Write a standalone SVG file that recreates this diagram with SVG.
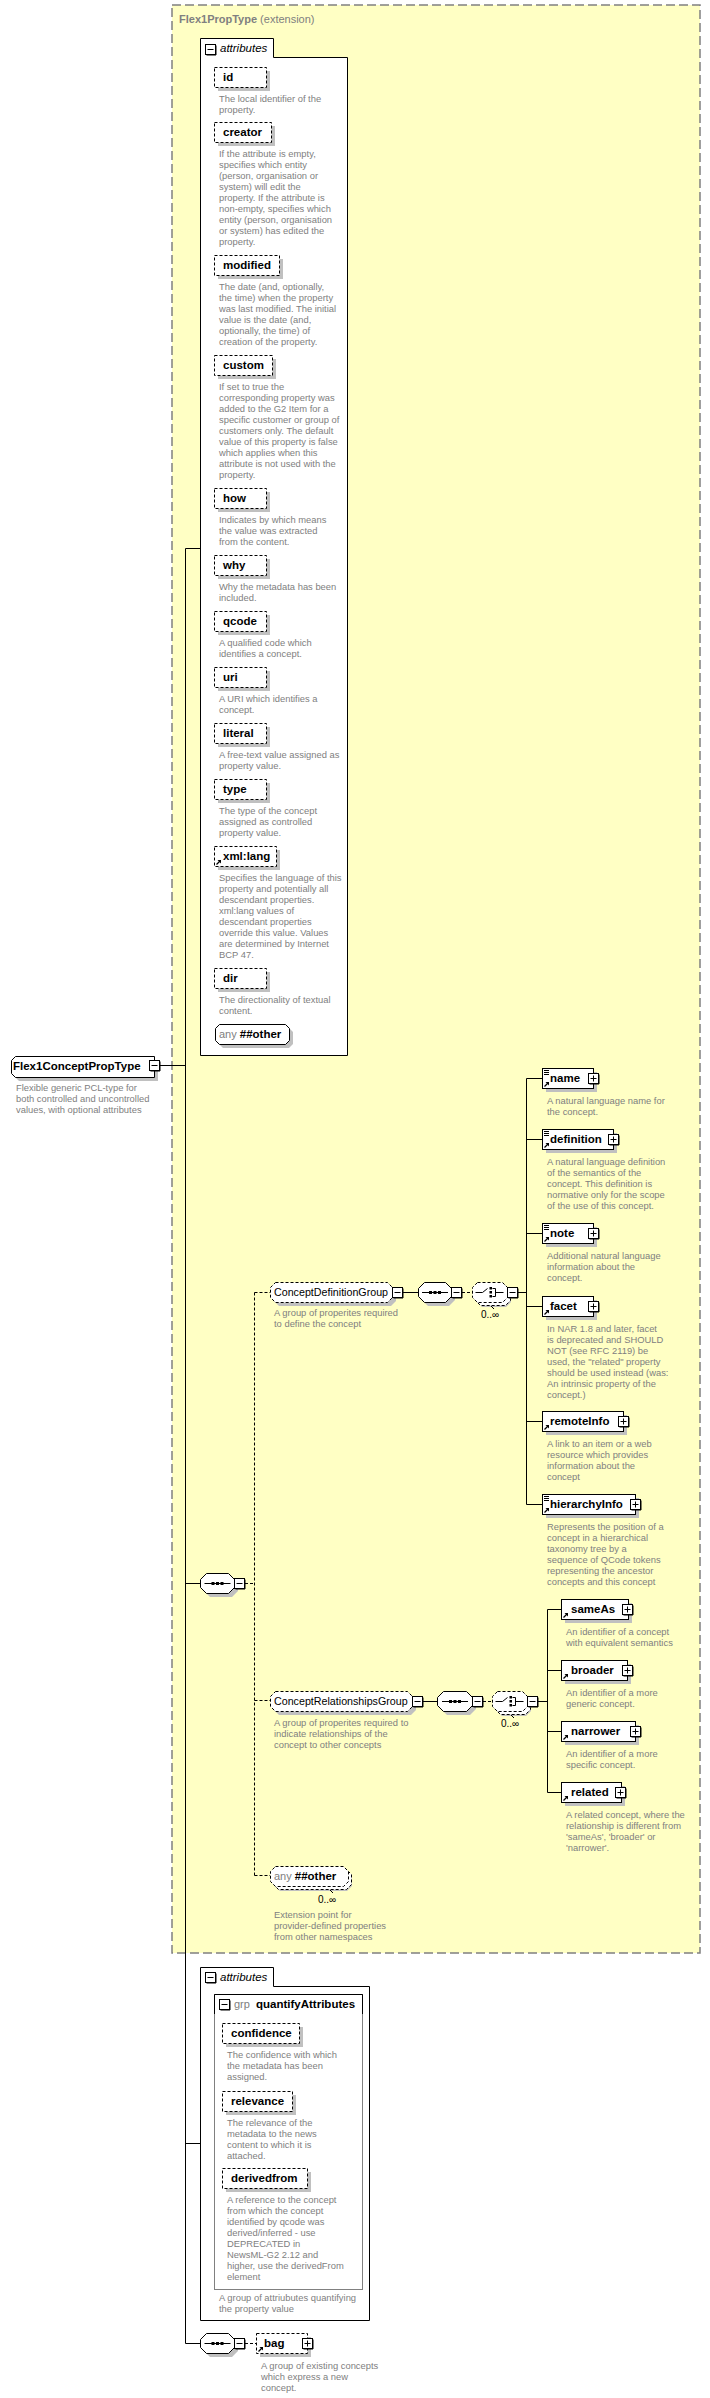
<svg xmlns="http://www.w3.org/2000/svg" xmlns:xlink="http://www.w3.org/1999/xlink" width="710" height="2398" viewBox="0 0 710 2398">
<style>
text{font-family:"Liberation Sans",Arial,sans-serif}
.yb{fill:#FFFFC4;stroke:#808080;stroke-width:1.5;stroke-dasharray:9 4}
.ln{stroke:#000;stroke-width:1;fill:none}
.dl{stroke:#000;stroke-width:1;fill:none;stroke-dasharray:3 2}
.box{fill:#fff;stroke:#000;stroke-width:1}
.dbox{fill:#fff;stroke:#000;stroke-width:1;stroke-dasharray:3 2}
.sh{fill:#c0c0c0}
.nm{font-size:11.5px;font-weight:bold;fill:#000}
.gn{font-size:10.7px;fill:#000}
.ds{font-size:9.4px;fill:#808080}
.gr{font-size:11px;fill:#808080}
.occ{font-size:10px;fill:#000}
.it{font-size:11.5px;font-style:italic;fill:#000}
.ic{fill:#000}
</style>
<defs>
<g id="minus"><rect x="0.5" y="0.5" width="10" height="10" fill="#fff" stroke="#000"/><path d="M11,1.5V11H1.5" stroke="#000" fill="none"/><path d="M2.5,5.5H8.5" stroke="#000"/></g>
<g id="plus"><rect x="0.5" y="0.5" width="10" height="10" fill="#fff" stroke="#000"/><path d="M11,1.5V11H1.5" stroke="#000" fill="none"/><path d="M2.5,5.5H8.5M5.5,2.5V8.5" stroke="#000"/></g>
<g id="sqI"><path d="M-13,0.5H13" stroke="#000"/><rect x="-6" y="-1" width="3" height="3"/><rect x="-1.5" y="-1" width="3" height="3"/><rect x="3" y="-1" width="3" height="3"/></g>
<g id="chI"><path d="M-14,0.5H-7L-2,-3.5" stroke="#000" fill="none"/><rect x="0" y="-5" width="2.5" height="2.5"/><rect x="0" y="-1" width="2.5" height="2.5"/><rect x="0" y="3" width="2.5" height="2.5"/><path d="M3,-3.5H6V4.5H3M6,0.5H14" stroke="#000" fill="none"/></g>
<g id="refI"><path d="M1.5,6.5L5,3" stroke="#000" stroke-width="1.2"/><path d="M2.5,2H6V5.5Z" fill="#000"/></g>
<g id="mixI"><path d="M1,1.5H6M1,3.5H6M1,5.5H6" stroke="#000"/></g>
</defs>

<rect class="yb" x="172" y="5" width="528" height="1948"/>
<text x="179" y="23" class="gr"><tspan font-weight="bold">Flex1PropType</tspan> (extension)</text>

<g id="connectors">
<path class="ln" d="M185.5,548.5V2343.5M185.5,548.5H200M160,1065.5H185.5M185.5,1583.5H200M185.5,2143.5H200M185.5,2343.5H200"/>
<path class="dl" d="M245,1583.5H254.5M254.5,1292.5V1875.5M254.5,1292.5H270M254.5,1700.5H270M254.5,1875.5H270"/>
<path class="ln" d="M403,1292.5H418M518,1292.5H526.5M526.5,1078.5V1504.5M526.5,1078.5H542M526.5,1139.5H542M526.5,1233.5H542M526.5,1306.5H542M526.5,1421.5H542M526.5,1504.5H542"/>
<path class="dl" d="M462,1292.5H472"/>
<path class="ln" d="M423,1701.5H437M538,1701.5H547.5M547.5,1609.5V1792.5M547.5,1609.5H561M547.5,1670.5H561M547.5,1731.5H561M547.5,1792.5H561"/>
<path class="dl" d="M483,1701.5H492M245,2343.5H256"/>
</g>

<g id="root">
<path class="sh" d="M19,1060L15,1064V1077L19,1081H158V1060Z"/>
<path class="box" d="M15.5,1056.5L11.5,1060.5V1073.5L15.5,1077.5H154.5V1056.5Z"/>
<text class="nm" x="13" y="1070">Flex1ConceptPropType</text>
<use xlink:href="#minus" x="149" y="1060"/>
<text class="ds"><tspan x="16" y="1091">Flexible generic PCL-type for</tspan><tspan x="16" y="1102">both controlled and uncontrolled</tspan><tspan x="16" y="1113">values, with optional attributes</tspan></text>
</g>

<g id="attributes1">
<path class="box" d="M200.5,38.5H273.5V57.5H347.5V1055.5H200.5Z"/>
<use xlink:href="#minus" x="205" y="44"/>
<text class="it" x="220" y="52">attributes</text>
</g>

<g id="attr-id"><rect class="sh" x="218" y="71" width="52" height="20"/><rect class="dbox" x="214.5" y="67.5" width="52" height="20"/><text class="nm" x="223" y="81">id</text>
<text class="ds"><tspan x="219" y="102">The local identifier of the</tspan><tspan x="219" y="113">property.</tspan></text></g>

<g id="attr-creator"><rect class="sh" x="218" y="126" width="57" height="20"/><rect class="dbox" x="214.5" y="122.5" width="57" height="20"/><text class="nm" x="223" y="136">creator</text>
<text class="ds"><tspan x="219" y="157">If the attribute is empty,</tspan><tspan x="219" y="168">specifies which entity</tspan><tspan x="219" y="179">(person, organisation or</tspan><tspan x="219" y="190">system) will edit the</tspan><tspan x="219" y="201">property. If the attribute is</tspan><tspan x="219" y="212">non-empty, specifies which</tspan><tspan x="219" y="223">entity (person, organisation</tspan><tspan x="219" y="234">or system) has edited the</tspan><tspan x="219" y="245">property.</tspan></text></g>

<g id="attr-modified"><rect class="sh" x="218" y="259" width="65" height="20"/><rect class="dbox" x="214.5" y="255.5" width="65" height="20"/><text class="nm" x="223" y="269">modified</text>
<text class="ds"><tspan x="219" y="290">The date (and, optionally,</tspan><tspan x="219" y="301">the time) when the property</tspan><tspan x="219" y="312">was last modified. The initial</tspan><tspan x="219" y="323">value is the date (and,</tspan><tspan x="219" y="334">optionally, the time) of</tspan><tspan x="219" y="345">creation of the property.</tspan></text></g>

<g id="attr-custom"><rect class="sh" x="218" y="359" width="58" height="20"/><rect class="dbox" x="214.5" y="355.5" width="58" height="20"/><text class="nm" x="223" y="369">custom</text>
<text class="ds"><tspan x="219" y="390">If set to true the</tspan><tspan x="219" y="401">corresponding property was</tspan><tspan x="219" y="412">added to the G2 Item for a</tspan><tspan x="219" y="423">specific customer or group of</tspan><tspan x="219" y="434">customers only. The default</tspan><tspan x="219" y="445">value of this property is false</tspan><tspan x="219" y="456">which applies when this</tspan><tspan x="219" y="467">attribute is not used with the</tspan><tspan x="219" y="478">property.</tspan></text></g>

<g id="attr-how"><rect class="sh" x="218" y="492" width="52" height="20"/><rect class="dbox" x="214.5" y="488.5" width="52" height="20"/><text class="nm" x="223" y="502">how</text>
<text class="ds"><tspan x="219" y="523">Indicates by which means</tspan><tspan x="219" y="534">the value was extracted</tspan><tspan x="219" y="545">from the content.</tspan></text></g>

<g id="attr-why"><rect class="sh" x="218" y="559" width="52" height="20"/><rect class="dbox" x="214.5" y="555.5" width="52" height="20"/><text class="nm" x="223" y="569">why</text>
<text class="ds"><tspan x="219" y="590">Why the metadata has been</tspan><tspan x="219" y="601">included.</tspan></text></g>

<g id="attr-qcode"><rect class="sh" x="218" y="615" width="52" height="20"/><rect class="dbox" x="214.5" y="611.5" width="52" height="20"/><text class="nm" x="223" y="625">qcode</text>
<text class="ds"><tspan x="219" y="646">A qualified code which</tspan><tspan x="219" y="657">identifies a concept.</tspan></text></g>

<g id="attr-uri"><rect class="sh" x="218" y="671" width="52" height="20"/><rect class="dbox" x="214.5" y="667.5" width="52" height="20"/><text class="nm" x="223" y="681">uri</text>
<text class="ds"><tspan x="219" y="702">A URI which identifies a</tspan><tspan x="219" y="713">concept.</tspan></text></g>

<g id="attr-literal"><rect class="sh" x="218" y="727" width="52" height="20"/><rect class="dbox" x="214.5" y="723.5" width="52" height="20"/><text class="nm" x="223" y="737">literal</text>
<text class="ds"><tspan x="219" y="758">A free-text value assigned as</tspan><tspan x="219" y="769">property value.</tspan></text></g>

<g id="attr-type"><rect class="sh" x="218" y="783" width="52" height="20"/><rect class="dbox" x="214.5" y="779.5" width="52" height="20"/><text class="nm" x="223" y="793">type</text>
<text class="ds"><tspan x="219" y="814">The type of the concept</tspan><tspan x="219" y="825">assigned as controlled</tspan><tspan x="219" y="836">property value.</tspan></text></g>

<g id="attr-xmllang"><rect class="sh" x="218" y="850" width="62" height="20"/><rect class="dbox" x="214.5" y="846.5" width="62" height="20"/><use xlink:href="#refI" x="215" y="858"/><text class="nm" x="223" y="860">xml:lang</text>
<text class="ds"><tspan x="219" y="881">Specifies the language of this</tspan><tspan x="219" y="892">property and potentially all</tspan><tspan x="219" y="903">descendant properties.</tspan><tspan x="219" y="914">xml:lang values of</tspan><tspan x="219" y="925">descendant properties</tspan><tspan x="219" y="936">override this value. Values</tspan><tspan x="219" y="947">are determined by Internet</tspan><tspan x="219" y="958">BCP 47.</tspan></text></g>

<g id="attr-dir"><rect class="sh" x="218" y="972" width="52" height="20"/><rect class="dbox" x="214.5" y="968.5" width="52" height="20"/><text class="nm" x="223" y="982">dir</text>
<text class="ds"><tspan x="219" y="1003">The directionality of textual</tspan><tspan x="219" y="1014">content.</tspan></text></g>

<g id="attr-any"><path class="sh" d="M223,1028H289L293,1032V1044L289,1048H223L219,1044V1032Z"/><path class="box" d="M219.5,1024.5H285.5L289.5,1028.5V1040.5L285.5,1044.5H219.5L215.5,1040.5V1028.5Z"/><text x="219" y="1038" class="gr">any <tspan class="nm">##other</tspan></text></g>

<g id="seq-main">
<path class="sh" d="M210,1577H232L238,1583V1591L232,1597H210L204,1591V1583Z"/>
<path class="box" d="M206.5,1573.5H228.5L234.5,1579.5V1587.5L228.5,1593.5H206.5L200.5,1587.5V1579.5Z"/>
<use xlink:href="#sqI" x="217.5" y="1583"/>
<use xlink:href="#minus" x="234" y="1578"/>
</g>

<g id="ConceptDefinitionGroup">
<path class="sh" d="M279,1286H391L396,1291V1301L391,1306H279L274,1301V1291Z"/>
<path class="dbox" d="M275.5,1282.5H387.5L392.5,1287.5V1297.5L387.5,1302.5H275.5L270.5,1297.5V1287.5Z"/>
<text class="gn" x="274" y="1296">ConceptDefinitionGroup</text>
<use xlink:href="#minus" x="392" y="1287"/>
<text class="ds"><tspan x="274" y="1316">A group of properites required</tspan><tspan x="274" y="1327">to define the concept</tspan></text>
</g>

<g id="seq-cdg">
<path class="sh" d="M428,1286H449L455,1292V1300L449,1306H428L422,1300V1292Z"/>
<path class="box" d="M424.5,1282.5H445.5L451.5,1288.5V1296.5L445.5,1302.5H424.5L418.5,1296.5V1288.5Z"/>
<use xlink:href="#sqI" x="435" y="1292"/>
<use xlink:href="#minus" x="451" y="1287"/>
</g>

<g id="choice-cdg">
<path class="sh" d="M482,1287H506L511,1292V1302L506,1307H482L477,1302V1292Z"/>
<path class="dbox" d="M480.5,1285.5H505.5L510.5,1290.5V1300.5L505.5,1305.5H480.5L475.5,1300.5V1290.5Z"/>
<path class="dbox" d="M477.5,1282.5H502.5L507.5,1287.5V1297.5L502.5,1302.5H477.5L472.5,1297.5V1287.5Z"/>
<use xlink:href="#chI" x="489.5" y="1292"/>
<use xlink:href="#minus" x="507" y="1287"/>
<path class="ln" d="M494,1309L491,1306"/>
<text class="occ" x="481" y="1318">0..∞</text>
</g>

<g id="el-name"><rect class="sh" x="546" y="1072" width="51" height="20"/><rect class="box" x="542.5" y="1068.5" width="51" height="20"/><use xlink:href="#mixI" x="543" y="1069"/><use xlink:href="#refI" x="543" y="1080"/><text class="nm" x="550" y="1082">name</text><use xlink:href="#plus" x="588" y="1073"/>
<text class="ds"><tspan x="547" y="1104">A natural language name for</tspan><tspan x="547" y="1115">the concept.</tspan></text></g>

<g id="el-definition"><rect class="sh" x="546" y="1133" width="71" height="20"/><rect class="box" x="542.5" y="1129.5" width="71" height="20"/><use xlink:href="#mixI" x="543" y="1130"/><use xlink:href="#refI" x="543" y="1141"/><text class="nm" x="550" y="1143">definition</text><use xlink:href="#plus" x="608" y="1134"/>
<text class="ds"><tspan x="547" y="1165">A natural language definition</tspan><tspan x="547" y="1176">of the semantics of the</tspan><tspan x="547" y="1187">concept. This definition is</tspan><tspan x="547" y="1198">normative only for the scope</tspan><tspan x="547" y="1209">of the use of this concept.</tspan></text></g>

<g id="el-note"><rect class="sh" x="546" y="1227" width="51" height="20"/><rect class="box" x="542.5" y="1223.5" width="51" height="20"/><use xlink:href="#mixI" x="543" y="1224"/><use xlink:href="#refI" x="543" y="1235"/><text class="nm" x="550" y="1237">note</text><use xlink:href="#plus" x="588" y="1228"/>
<text class="ds"><tspan x="547" y="1259">Additional natural language</tspan><tspan x="547" y="1270">information about the</tspan><tspan x="547" y="1281">concept.</tspan></text></g>

<g id="el-facet"><rect class="sh" x="546" y="1300" width="51" height="20"/><rect class="box" x="542.5" y="1296.5" width="51" height="20"/><use xlink:href="#refI" x="543" y="1308"/><text class="nm" x="550" y="1310">facet</text><use xlink:href="#plus" x="588" y="1301"/>
<text class="ds"><tspan x="547" y="1332">In NAR 1.8 and later, facet</tspan><tspan x="547" y="1343">is deprecated and SHOULD</tspan><tspan x="547" y="1354">NOT (see RFC 2119) be</tspan><tspan x="547" y="1365">used, the "related" property</tspan><tspan x="547" y="1376">should be used instead (was:</tspan><tspan x="547" y="1387">An intrinsic property of the</tspan><tspan x="547" y="1398">concept.)</tspan></text></g>

<g id="el-remoteInfo"><rect class="sh" x="546" y="1415" width="81" height="20"/><rect class="box" x="542.5" y="1411.5" width="81" height="20"/><use xlink:href="#refI" x="543" y="1423"/><text class="nm" x="550" y="1425">remoteInfo</text><use xlink:href="#plus" x="618" y="1416"/>
<text class="ds"><tspan x="547" y="1447">A link to an item or a web</tspan><tspan x="547" y="1458">resource which provides</tspan><tspan x="547" y="1469">information about the</tspan><tspan x="547" y="1480">concept</tspan></text></g>

<g id="el-hierarchyInfo"><rect class="sh" x="546" y="1498" width="93" height="20"/><rect class="box" x="542.5" y="1494.5" width="93" height="20"/><use xlink:href="#mixI" x="543" y="1495"/><use xlink:href="#refI" x="543" y="1506"/><text class="nm" x="550" y="1508">hierarchyInfo</text><use xlink:href="#plus" x="630" y="1499"/>
<text class="ds"><tspan x="547" y="1530">Represents the position of a</tspan><tspan x="547" y="1541">concept in a hierarchical</tspan><tspan x="547" y="1552">taxonomy tree by a</tspan><tspan x="547" y="1563">sequence of QCode tokens</tspan><tspan x="547" y="1574">representing the ancestor</tspan><tspan x="547" y="1585">concepts and this concept</tspan></text></g>

<g id="ConceptRelationshipsGroup">
<path class="sh" d="M279,1695H411L416,1700V1710L411,1715H279L274,1710V1700Z"/>
<path class="dbox" d="M275.5,1691.5H407.5L412.5,1696.5V1706.5L407.5,1711.5H275.5L270.5,1706.5V1696.5Z"/>
<text class="gn" x="274" y="1705">ConceptRelationshipsGroup</text>
<use xlink:href="#minus" x="412" y="1696"/>
<text class="ds"><tspan x="274" y="1726">A group of properites required to</tspan><tspan x="274" y="1737">indicate relationships of the</tspan><tspan x="274" y="1748">concept to other concepts</tspan></text>
</g>

<g id="seq-crg">
<path class="sh" d="M447,1695H470L476,1701V1709L470,1715H447L441,1709V1701Z"/>
<path class="box" d="M443.5,1691.5H466.5L472.5,1697.5V1705.5L466.5,1711.5H443.5L437.5,1705.5V1697.5Z"/>
<use xlink:href="#sqI" x="455" y="1701"/>
<use xlink:href="#minus" x="472" y="1696"/>
</g>

<g id="choice-crg">
<path class="sh" d="M502,1696H526L531,1701V1711L526,1716H502L497,1711V1701Z"/>
<path class="dbox" d="M500.5,1694.5H525.5L530.5,1699.5V1709.5L525.5,1714.5H500.5L495.5,1709.5V1699.5Z"/>
<path class="dbox" d="M497.5,1691.5H522.5L527.5,1696.5V1706.5L522.5,1711.5H497.5L492.5,1706.5V1696.5Z"/>
<use xlink:href="#chI" x="509.5" y="1701"/>
<use xlink:href="#minus" x="527" y="1696"/>
<path class="ln" d="M514,1718L511,1715"/>
<text class="occ" x="501" y="1727">0..∞</text>
</g>

<g id="el-sameAs"><rect class="sh" x="565" y="1603" width="67" height="20"/><rect class="box" x="561.5" y="1599.5" width="67" height="20"/><use xlink:href="#refI" x="562" y="1611"/><text class="nm" x="571" y="1613">sameAs</text><use xlink:href="#plus" x="622" y="1604"/>
<text class="ds"><tspan x="566" y="1635">An identifier of a concept</tspan><tspan x="566" y="1646">with equivalent semantics</tspan></text></g>

<g id="el-broader"><rect class="sh" x="565" y="1664" width="66" height="20"/><rect class="box" x="561.5" y="1660.5" width="66" height="20"/><use xlink:href="#refI" x="562" y="1672"/><text class="nm" x="571" y="1674">broader</text><use xlink:href="#plus" x="622" y="1665"/>
<text class="ds"><tspan x="566" y="1696">An identifier of a more</tspan><tspan x="566" y="1707">generic concept.</tspan></text></g>

<g id="el-narrower"><rect class="sh" x="565" y="1725" width="74" height="20"/><rect class="box" x="561.5" y="1721.5" width="74" height="20"/><use xlink:href="#refI" x="562" y="1733"/><text class="nm" x="571" y="1735">narrower</text><use xlink:href="#plus" x="630" y="1726"/>
<text class="ds"><tspan x="566" y="1757">An identifier of a more</tspan><tspan x="566" y="1768">specific concept.</tspan></text></g>

<g id="el-related"><rect class="sh" x="565" y="1786" width="60" height="20"/><rect class="box" x="561.5" y="1782.5" width="60" height="20"/><use xlink:href="#refI" x="562" y="1794"/><text class="nm" x="571" y="1796">related</text><use xlink:href="#plus" x="615" y="1787"/>
<text class="ds"><tspan x="566" y="1818">A related concept, where the</tspan><tspan x="566" y="1829">relationship is different from</tspan><tspan x="566" y="1840">'sameAs', 'broader' or</tspan><tspan x="566" y="1851">'narrower'.</tspan></text></g>

<g id="any-other">
<path class="sh" d="M280,1871H347L352,1876V1886L347,1891H280L275,1886V1876Z"/>
<path class="dbox" d="M278.5,1869.5H346.5L351.5,1874.5V1884.5L346.5,1889.5H278.5L273.5,1884.5V1874.5Z"/>
<path class="dbox" d="M275.5,1866.5H343.5L348.5,1871.5V1881.5L343.5,1886.5H275.5L270.5,1881.5V1871.5Z"/>
<text x="274" y="1880" class="gr">any <tspan class="nm">##other</tspan></text>
<path class="ln" d="M333,1893L330,1890"/>
<text class="occ" x="318" y="1903">0..∞</text>
<text class="ds"><tspan x="274" y="1918">Extension point for</tspan><tspan x="274" y="1929">provider-defined properties</tspan><tspan x="274" y="1940">from other namespaces</tspan></text>
</g>

<g id="attributes2">
<path class="box" d="M200.5,1967.5H273.5V1986.5H369.5V2320.5H200.5Z"/>
<use xlink:href="#minus" x="205" y="1972"/>
<text class="it" x="220" y="1981">attributes</text>
</g>

<g id="quantifyAttributes">
<rect x="214.5" y="1994.5" width="148" height="295" fill="#fff" stroke="#808080"/>
<path d="M214.5,2014V1994.5H362.5V2014" fill="none" stroke="#000"/>
<use xlink:href="#minus" x="219" y="1999"/>
<text x="234" y="2008" class="gr">grp <tspan class="nm" x="256">quantifyAttributes</tspan></text>
<text class="ds"><tspan x="219" y="2301">A group of attriubutes quantifying</tspan><tspan x="219" y="2312">the property value</tspan></text>
</g>

<g id="attr-confidence"><rect class="sh" x="226" y="2027" width="77" height="20"/><rect class="dbox" x="222.5" y="2023.5" width="77" height="20"/><text class="nm" x="231" y="2037">confidence</text>
<text class="ds"><tspan x="227" y="2058">The confidence with which</tspan><tspan x="227" y="2069">the metadata has been</tspan><tspan x="227" y="2080">assigned.</tspan></text></g>

<g id="attr-relevance"><rect class="sh" x="226" y="2095" width="70" height="20"/><rect class="dbox" x="222.5" y="2091.5" width="70" height="20"/><text class="nm" x="231" y="2105">relevance</text>
<text class="ds"><tspan x="227" y="2126">The relevance of the</tspan><tspan x="227" y="2137">metadata to the news</tspan><tspan x="227" y="2148">content to which it is</tspan><tspan x="227" y="2159">attached.</tspan></text></g>

<g id="attr-derivedfrom"><rect class="sh" x="226" y="2172" width="85" height="20"/><rect class="dbox" x="222.5" y="2168.5" width="85" height="20"/><text class="nm" x="231" y="2182">derivedfrom</text>
<text class="ds"><tspan x="227" y="2203">A reference to the concept</tspan><tspan x="227" y="2214">from which the concept</tspan><tspan x="227" y="2225">identified by qcode was</tspan><tspan x="227" y="2236">derived/inferred - use</tspan><tspan x="227" y="2247">DEPRECATED in</tspan><tspan x="227" y="2258">NewsML-G2 2.12 and</tspan><tspan x="227" y="2269">higher, use the derivedFrom</tspan><tspan x="227" y="2280">element</tspan></text></g>

<g id="seq-bag">
<path class="sh" d="M210,2337H232L238,2343V2351L232,2357H210L204,2351V2343Z"/>
<path class="box" d="M206.5,2333.5H228.5L234.5,2339.5V2347.5L228.5,2353.5H206.5L200.5,2347.5V2339.5Z"/>
<use xlink:href="#sqI" x="217.5" y="2343"/>
<use xlink:href="#minus" x="234" y="2338"/>
</g>

<g id="el-bag"><rect class="sh" x="260" y="2337" width="51" height="20"/><rect class="dbox" x="256.5" y="2333.5" width="51" height="20"/><use xlink:href="#refI" x="257" y="2345"/><text class="nm" x="264" y="2347">bag</text><use xlink:href="#plus" x="302" y="2338"/>
<text class="ds"><tspan x="261" y="2369">A group of existing concepts</tspan><tspan x="261" y="2380">which express a new</tspan><tspan x="261" y="2391">concept.</tspan></text></g>
</svg>
